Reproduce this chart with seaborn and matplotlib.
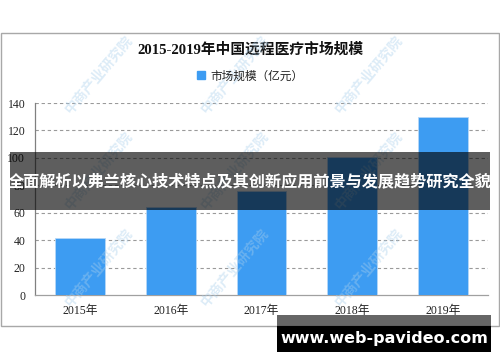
import matplotlib
matplotlib.use("Agg")
import matplotlib.pyplot as plt
import seaborn as sns
import pandas as pd
from matplotlib.patches import Rectangle
from matplotlib.ticker import FixedLocator
from matplotlib.lines import Line2D

years = ["2015年", "2016年", "2017年", "2018年", "2019年"]
market = [41.8, 64.0, 75.5, 100.7, 129.8]
y_ticks = [0, 20, 40, 60, 80, 100, 120, 140]
title = "2015-2019年中国远程医疗市场规模"
series_name = "市场规模（亿元）"
banner = "全面解析以弗兰核心技术特点及其创新应用前景与发展趋势研究全貌"
site = "www.web-pavideo.com"
watermark = "中商产业研究院"

sns.set_style("white")
plt.rcParams['font.family'] = ['Noto Sans CJK SC', 'DejaVu Sans']
serif = ['Liberation Serif', 'Noto Sans CJK SC']

W, H = 500, 362
fig = plt.figure(figsize=(5, 3.62), dpi=100)
ax = fig.add_axes([35 / W, 1 - 295 / H, (488 - 35) / W, (295 - 103) / H])

df = pd.DataFrame({"year": years, "value": market})
bar_color = "#3d9cf2"
sns.barplot(data=df, x="year", y="value", color=bar_color, width=0.55,
            saturation=1, edgecolor="#b5d7f7", linewidth=0.6, ax=ax, zorder=3)

ax.set_xlim(-0.5, len(years) - 0.5)
ax.set_ylim(0, 140)
ax.set_yticks(y_ticks)
ax.set_yticklabels([str(v) for v in y_ticks], family=serif, fontsize=8.5, color="#222222")
ax.set_xticks(range(len(years)))
ax.set_xticklabels(years, family=serif, fontsize=8.5, color="#222222")
ax.xaxis.set_minor_locator(FixedLocator([i - 0.5 for i in range(len(years) + 1)]))
ax.tick_params(axis="x", which="major", length=0, pad=7)
ax.tick_params(axis="x", which="minor", length=5, color="#909090", width=0.9, direction="out")
ax.tick_params(axis="y", which="major", length=5, color="#909090", width=0.9, pad=2, direction="out")
ax.set_xlabel("")
ax.set_ylabel("")
for yv in y_ticks[1:]:
    ax.axhline(yv, color="#9a9a9a", lw=0.8, ls=(0, (3, 2.5)), zorder=1)
for s in ["top", "right"]:
    ax.spines[s].set_visible(False)
ax.spines["left"].set_color("#808080")
ax.spines["bottom"].set_color("#a0a0a0")
ax.spines["left"].set_linewidth(0.9)
ax.spines["bottom"].set_linewidth(0.9)

# chart border
fig.patches.append(Rectangle((1 / W, 1 - 326 / H), 498 / W, (326 - 33) / H,
                             transform=fig.transFigure, fill=False,
                             edgecolor="#a8a8a8", lw=1.0))

fig.text(0.5, 1 - 50 / H, title, ha="center", va="center", fontsize=10.6,
         fontweight="bold", family=serif, color="#111111")

handle = Line2D([], [], marker="s", color="none", markerfacecolor=bar_color,
                markeredgecolor=bar_color, markersize=5.5)
fig.legend([handle], [series_name], loc="center", bbox_to_anchor=(0.5, 1 - 76 / H),
           frameon=False, fontsize=8.4, handlelength=0.8, handletextpad=0.4,
           labelcolor="#222222")

# watermarks
for wy in [112, 208, 305]:
    for wx in [68, 204, 338]:
        fig.text(wx / W, 1 - wy / H, watermark, rotation=50, rotation_mode="anchor",
                 ha="left", va="center", fontsize=10, color="#a9cfec",
                 alpha=0.4, fontweight="bold", zorder=5)

# overlay banner
fig.patches.append(Rectangle((10 / W, 1 - 210 / H), 480 / W, 58 / H,
                             transform=fig.transFigure, color="black",
                             alpha=0.63, zorder=10, lw=0))
fig.text(0.5, 1 - 181 / H, banner, ha="center", va="center", fontsize=11.6,
         fontweight="bold", color="white", zorder=11)

# bottom site banner
fig.patches.append(Rectangle((277 / W, 1 - 326 / H), 214 / W, 11 / H,
                             transform=fig.transFigure, color="black",
                             alpha=0.6, zorder=10, lw=0))
fig.patches.append(Rectangle((277 / W, 1 - 352 / H), 214 / W, 26 / H,
                             transform=fig.transFigure, color="black",
                             zorder=10, lw=0))
fig.text(384 / W, 1 - 338 / H, site, ha="center", va="center", fontsize=11.5,
         fontweight="bold", family=["DejaVu Sans"], color="white", zorder=11)

fig.savefig("out.png", dpi=100)
